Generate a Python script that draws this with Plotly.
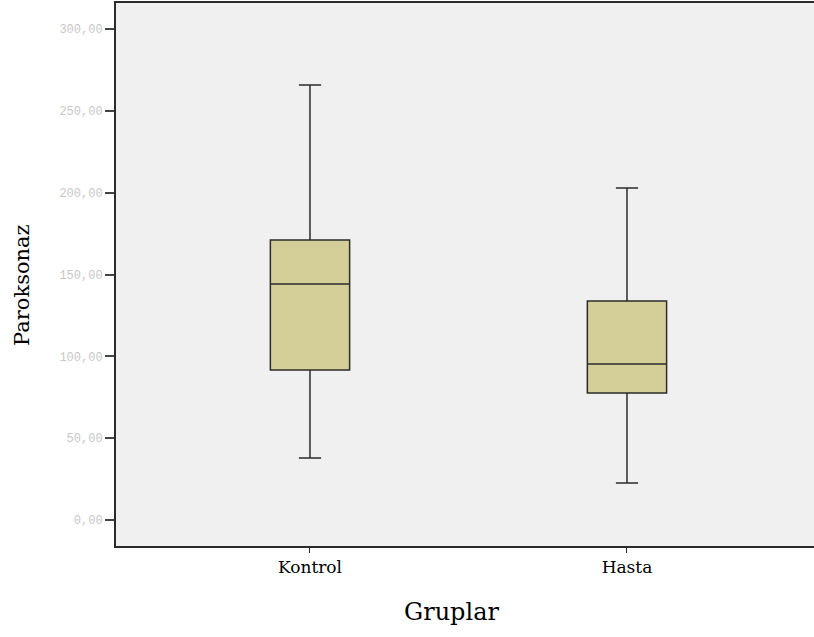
import plotly.graph_objects as go

groups = ["Kontrol", "Hasta"]
lower = [37.9, 22.6]
q1 = [91.7, 77.6]
median = [144.3, 95.4]
q3 = [171.1, 133.9]
upper = [265.9, 202.9]
y_ticks = [0, 50, 100, 150, 200, 250, 300]
y_tick_text = ["0,00", "50,00", "100,00", "150,00", "200,00", "250,00", "300,00"]

fig = go.Figure()
fig.add_trace(go.Box(
    x=groups, q1=q1, median=median, q3=q3,
    lowerfence=lower, upperfence=upper,
    fillcolor="#D4CF98",
    line=dict(color="#2b2b2b", width=1.5),
    width=0.25,
    whiskerwidth=0.28,
    boxpoints=False,
    showlegend=False,
))

fig.update_layout(
    width=814, height=637,
    margin=dict(l=116, r=0, t=3, b=91),
    paper_bgcolor="white",
    plot_bgcolor="#F0F0F0",
    xaxis=dict(
        range=[-0.612, 1.59],
        showline=True, linecolor="#2b2b2b", linewidth=2, mirror=True,
        ticks="outside", ticklen=5, tickcolor="#2b2b2b",
        tickfont=dict(family="DejaVu Serif", size=17, color="#000"),
        showgrid=False,
    ),
    yaxis=dict(
        range=[-15.9, 316],
        showline=True, linecolor="#2b2b2b", linewidth=2,
        ticks="outside", ticklen=9, tickwidth=2, tickcolor="#444",
        tickvals=y_ticks, ticktext=y_tick_text,
        tickfont=dict(family="Liberation Mono", size=12, color="#c8c8c8"),
        showgrid=False, zeroline=False,
    ),
    annotations=[
        dict(text="Gruplar", xref="paper", yref="paper", x=0.48, y=-0.1215,
             xanchor="center", yanchor="middle", showarrow=False,
             font=dict(family="DejaVu Serif", size=24, color="#000")),
        dict(text="Paroksonaz", xref="paper", yref="paper", x=-0.1347, y=0.4807,
             xanchor="center", yanchor="middle", showarrow=False, textangle=-90,
             font=dict(family="DejaVu Serif", size=21, color="#000")),
    ],
)

fig.write_html("out.html")
